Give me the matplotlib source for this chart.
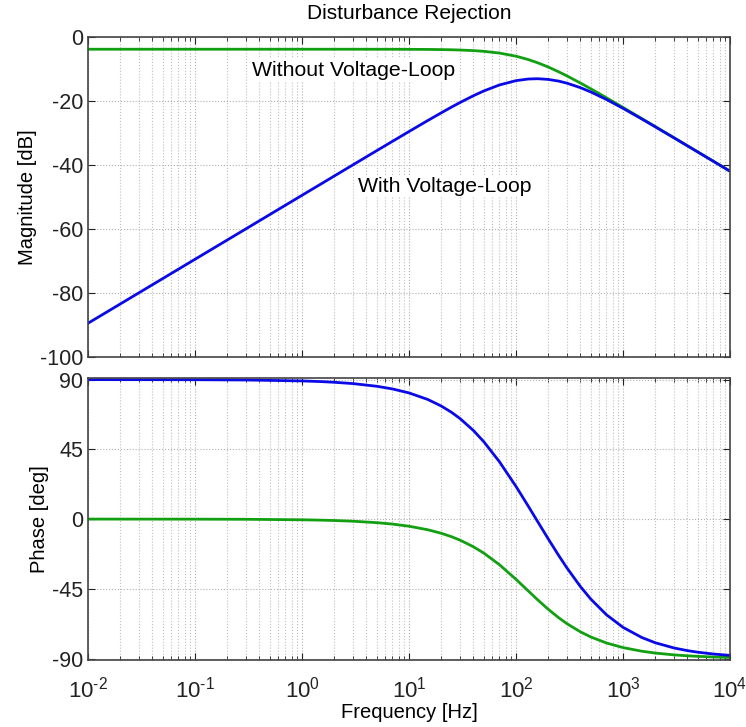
import matplotlib
matplotlib.use('Agg')
import matplotlib.pyplot as plt
from matplotlib.ticker import LogLocator, NullFormatter, FixedLocator

plt.rcParams['font.family'] = ['Liberation Sans', 'DejaVu Sans']
plt.rcParams['mathtext.fontset'] = 'custom'
plt.rcParams['mathtext.rm'] = 'Liberation Sans'
plt.rcParams['mathtext.it'] = 'Liberation Sans:italic'
plt.rcParams['mathtext.bf'] = 'Liberation Sans:bold'
plt.rcParams['axes.unicode_minus'] = False

# values
freq = [0.01, 0.1, 0.3, 1, 1.5, 2, 3, 5, 7, 10, 15, 20, 25, 30, 40, 50, 70, 100,
        130, 160, 200, 250, 300, 400, 500, 700, 1000, 1500, 2000, 3000, 4000,
        5000, 7000, 10000]
mag_without = [-3.80, -3.80, -3.80, -3.80, -3.80, -3.80, -3.80, -3.81, -3.81, -3.83,
               -3.86, -3.91, -3.97, -4.05, -4.23, -4.46, -5.00, -5.98, -7.02, -8.06,
               -9.36, -10.85, -12.16, -14.37, -16.17, -18.97, -22.00, -25.48, -27.97,
               -31.48, -33.98, -35.91, -38.83, -41.93]
mag_with = [-89.46, -69.46, -59.92, -49.46, -45.94, -43.44, -39.92, -35.49, -32.59,
            -29.52, -26.07, -23.68, -21.87, -20.45, -18.33, -16.84, -14.97, -13.62,
            -13.11, -13.02, -13.24, -13.76, -14.42, -15.82, -17.16, -19.51, -22.28,
            -25.62, -28.05, -31.52, -34.00, -35.93, -38.85, -41.94]
ph_without = [0.0, -0.05, -0.14, -0.46, -0.69, -0.92, -1.39, -2.31, -3.23, -4.61,
              -6.90, -9.16, -11.40, -13.60, -17.88, -21.96, -29.45, -38.88, -46.35,
              -52.22, -58.20, -63.61, -67.54, -72.78, -76.07, -79.95, -82.93, -85.27,
              -86.45, -87.63, -88.22, -88.58, -88.99, -89.29]
ph_with = [89.99, 89.91, 89.74, 89.14, 88.71, 88.27, 87.41, 85.69, 83.97, 81.40,
           77.15, 72.95, 68.85, 64.84, 57.13, 49.91, 36.97, 21.03, 8.39, -1.84,
           -12.78, -23.41, -31.66, -43.57, -51.65, -61.74, -69.86, -76.44, -79.79,
           -83.18, -84.88, -85.90, -87.07, -87.95]

mag_ticks = [-100, -80, -60, -40, -20, 0]
ph_ticks = [-90, -45, 0, 45, 90]
dec_ticks = [1e-2, 1e-1, 1e0, 1e1, 1e2, 1e3, 1e4]
dec_labels = [r'$10^{\text{-2}}$', r'$10^{\text{-1}}$', r'$10^{0}$', r'$10^{1}$',
              r'$10^{2}$', r'$10^{3}$', r'$10^{4}$']

blue = '#0a0ae6'
green = '#12a012'

fig = plt.figure(figsize=(7.46, 7.27), dpi=100)
ax1 = fig.add_axes([0.118, 0.509, 0.8606, 0.440])
ax2 = fig.add_axes([0.118, 0.092, 0.8606, 0.388])

ax1.semilogx(freq, mag_without, color=green, linewidth=2)
ax1.semilogx(freq, mag_with, color=blue, linewidth=2)
ax2.semilogx(freq, ph_without, color=green, linewidth=2)
ax2.semilogx(freq, ph_with, color=blue, linewidth=2)

for ax in (ax1, ax2):
    ax.set_xlim(1e-2, 1e4)
    ax.xaxis.set_major_locator(FixedLocator(dec_ticks))
    ax.xaxis.set_minor_locator(LogLocator(base=10, subs=range(2, 10), numticks=20))
    ax.xaxis.set_minor_formatter(NullFormatter())
    ax.grid(True, which='major', linestyle=':', color='#b0b0b0', linewidth=0.8)
    ax.grid(True, which='minor', axis='x', linestyle=':', color='#c0c0c0', linewidth=0.8)
    ax.tick_params(which='both', direction='in', top=True, right=True,
                   labelsize=15.5, colors='#222222')
    ax.tick_params(which='major', length=5)
    ax.tick_params(which='minor', length=3)
    for s in ax.spines.values():
        s.set_color('#444444')
        s.set_linewidth(1.2)

ax1.set_ylim(-100, 0)
ax1.set_yticks(mag_ticks)
ax1.set_xticklabels([])
ax1.set_ylabel('Magnitude [dB]', fontsize=14.5, labelpad=2)
ax1.set_title('Disturbance Rejection', fontsize=15, pad=13)
ax1.text(3.0, -10.3, 'Without Voltage-Loop', fontsize=15.3, ha='center', va='center',
         bbox=dict(facecolor='white', edgecolor='none', pad=1))
ax1.text(21.7, -46.6, 'With Voltage-Loop', fontsize=15.3, ha='center', va='center',
         bbox=dict(facecolor='white', edgecolor='none', pad=1))

ax2.set_ylim(-91, 91)
ax2.set_yticks(ph_ticks)
ax2.set_xticklabels(dec_labels, fontsize=16)
ax2.tick_params(axis='x', pad=12)
ax2.set_ylabel('Phase [deg]', fontsize=14.5, labelpad=2)
ax2.set_xlabel('Frequency [Hz]', fontsize=14.5, labelpad=0)

fig.savefig('out.png', dpi=100)
